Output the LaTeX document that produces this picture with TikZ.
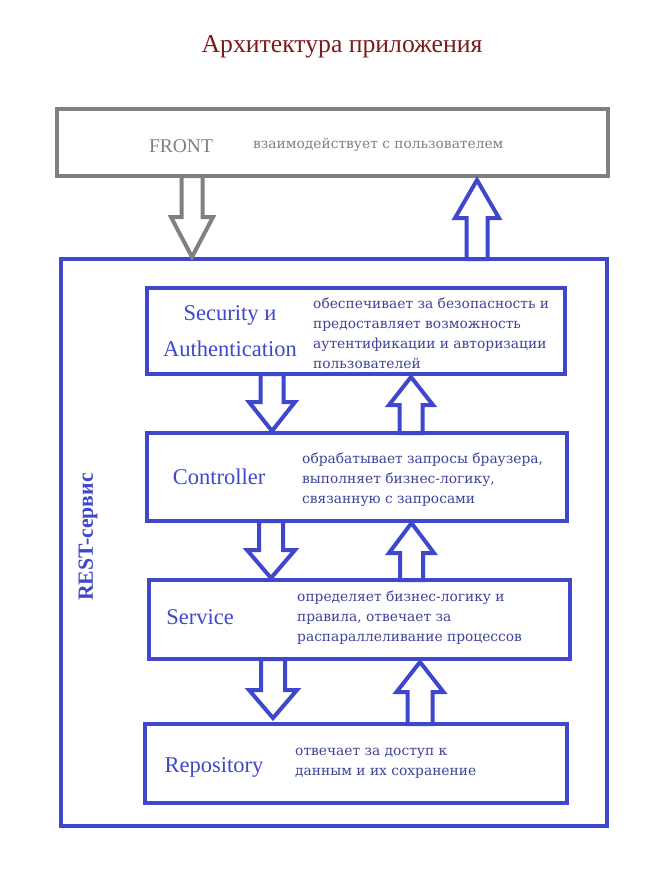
\documentclass[tikz,border=0pt]{standalone}
\usepackage{fontspec}
\setmainfont{Liberation Serif}
\newfontfamily\descfont{DejaVu Serif}
\definecolor{bblue}{HTML}{3F48CC}
\definecolor{dblue}{HTML}{3E4399}
\definecolor{fgray}{HTML}{808080}
\definecolor{dred}{HTML}{7D1A1A}
\newcommand\blockarrow[7]{%
  \draw[#1] (#2-#6,#3) -- (#2-#6,#4) -- (#2-#7,#4) -- (#2,#5) -- (#2+#7,#4) -- (#2+#6,#4) -- (#2+#6,#3) -- cycle;}
\begin{document}
\begin{tikzpicture}[x=1pt,y=-1pt,
  bluebox/.style={draw=bblue, line width=4pt, fill=white, inner sep=0pt},
  graybox/.style={draw=fgray, line width=4pt, fill=white, inner sep=0pt},
  barrow/.style={draw=bblue, line width=4pt, fill=white, line join=miter},
  garrow/.style={draw=fgray, line width=4pt, fill=white, line join=miter},
  ttl/.style={text=bblue, font=\fontsize{22.5}{36}\selectfont, inner sep=0pt, align=center},
  desc/.style={text=dblue, font=\descfont\fontsize{13.8}{20}\selectfont, inner sep=0pt, align=left, anchor=west}]
\useasboundingbox[fill=white] (0,0) rectangle (657,873);
\node[text=dred, font=\fontsize{25.7}{28}\selectfont, inner sep=0pt] (title) at (342,47) {Архитектура приложения};
% boxes
\node[graybox, minimum width=551pt, minimum height=67pt] (front) at (332.5,142.5) {};
\node[bluebox, minimum width=546pt, minimum height=567pt] (rest) at (334,542.5) {};
\node[bluebox, minimum width=418pt, minimum height=86pt] (sec) at (356,331) {};
\node[bluebox, minimum width=420pt, minimum height=88pt] (ctrl) at (357,477) {};
\node[bluebox, minimum width=421pt, minimum height=79pt] (serv) at (359.5,619.5) {};
\node[bluebox, minimum width=422pt, minimum height=79pt] (repo) at (356,763.5) {};
% arrows
\blockarrow{garrow}{192}{176}{217}{257}{10.5}{21}
\blockarrow{barrow}{477}{259}{218}{180}{10.5}{22}
\blockarrow{barrow}{272}{374}{402}{431}{11.5}{23}
\blockarrow{barrow}{411}{433}{405}{377}{11.5}{22}
\blockarrow{barrow}{271}{521}{550}{578}{12}{24}
\blockarrow{barrow}{411.5}{580}{553}{523}{11.5}{22.5}
\blockarrow{barrow}{273}{659}{690}{718}{12}{24}
\blockarrow{barrow}{420}{724}{692}{662}{12.5}{23.5}
% texts
\node[text=fgray, font=\fontsize{19.5}{22}\selectfont, inner sep=0pt] (frontt) at (181,146) {FRONT};
\node[desc, text=fgray, font=\descfont\fontsize{13.8}{20}\selectfont] (frontd) at (253,145) {взаимодействует с пользователем};
\node[ttl] (sect) at (230,331) {Security и\\Authentication};
\node[desc] (secd) at (313,333) {обеспечивает за безопасность и\\предоставляет возможность\\аутентификации и авторизации\\пользователей};
\node[ttl] (ctrlt) at (219,477) {Controller};
\node[desc] (ctrld) at (302,480) {обрабатывает запросы браузера,\\выполняет бизнес-логику,\\связанную с запросами};
\node[ttl] (servt) at (200,617) {Service};
\node[desc] (servd) at (297,617.5) {определяет бизнес-логику и\\правила, отвечает за\\распараллеливание процессов};
\node[ttl] (repot) at (214,767) {Repository};
\node[desc] (repod) at (295,763.5) {отвечает за доступ к\\данным и их сохранение};
\node[text=bblue, font=\bfseries\fontsize{21.7}{24}\selectfont, inner sep=0pt, rotate=90] (restt) at (88,537) {REST-сервис};
\end{tikzpicture}
\end{document}
